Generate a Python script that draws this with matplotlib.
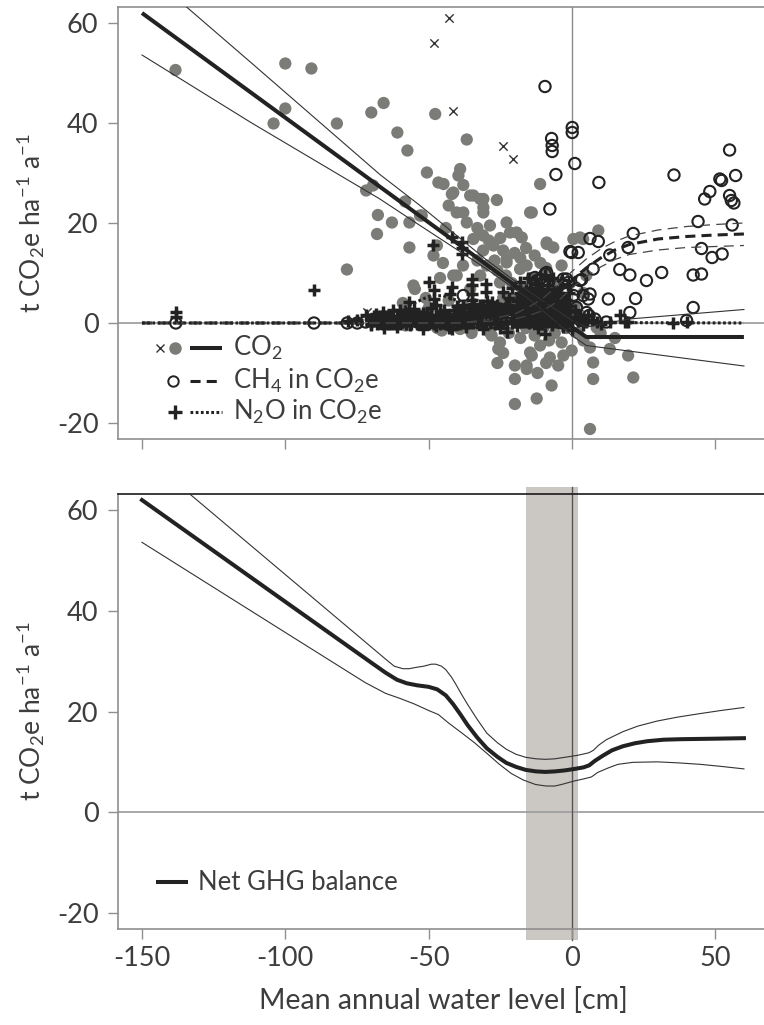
import matplotlib
matplotlib.use('Agg')
import matplotlib.pyplot as plt

plt.rcParams['font.family'] = ['Lato', 'DejaVu Sans']
plt.rcParams['mathtext.default'] = 'regular'
plt.rcParams['axes.unicode_minus'] = False

# ---------------- data ----------------
x_ticks = [-150, -100, -50, 0, 50]
y_ticks = [-20, 0, 20, 40, 60]
x_lim = (-158.4, 68.4)
y_lim = (-23.2, 63.2)

# CO2 measurements (grey dots)
co2_x = [-138.3, -100, -90.9, -104.1, -100, -82, -70, -65.7, -71.8, -69.4, -67.7, -68, -78.5, -60.9,
         -57.4, -47.7, -36.7, -50.6, -46.6, -44.8, -39, -39.6, -37.9, -41.9, -34.4, -30.9, -26.2, -58.2,
         -52.4, -62.8, -56.7, -56.7, -40.2, -36.7, -30.9, -28.6, -27.4, -22.8, -34.4, -47.1, -35.5, -32,
         -30.9, -14, -11.1, -19.3, -17.5, -8.8, -6.5, -3.6, 0.5, 2.8, 9.2, -53, -55.3, -40.2, -35.5,
         -29.7, -22.8, -18.1, -15.8, -25.1, -20.5, -29.7, -28, -25.7, -25.1, -19.9, -19.9, -19.9, -12.3,
         -15.8, -14, -11.1, -7.1, -4.8, -7.7, -3.6, -0.1, 6.3, 7.4, 7.4, 6.3, 13.2, 19.6, 21.4, 8.6,
         -45.4, -15.8, -14.6, -28.6, -41.4, -37.9, -14.6, -21.6, -8.8, -22.8, -32, -41.4, -48.3, 3.9,
         -33, -31, -29, -25, -24, -20, -18, -16, -13, -11, -9, -26, -23, -21, -17, -14, -12, -10, -7,
         -5, -3, -1, 1, 3, 5, 4, -44, -43, -45, -38, -33, -31, -27, -24, -28, -32, -37, -43, -50, -53,
         -58, -64, -47, -39, -35, -22, -18, -16, -13, -10, -8, -6, -2, 2, 4, 10, -24, -26, -12, -9, -3,
         15, -51, -59, -46, -54.8]
co2_y = [50.6, 51.9, 50.9, 39.9, 42.9, 39.9, 42.1, 44.0, 26.5, 27.5, 21.6, 17.8, 10.7, 38.1,
         34.5, 41.8, 36.7, 30.1, 28.1, 27.8, 30.8, 29.5, 27.6, 25.8, 25.5, 24.8, 24.6, 24.3,
         21.5, 20.1, 20.1, 15.1, 22.1, 20.1, 22.1, 19.5, 15.5, 20.1, 16.8, 15.5, 25.5, 24.8,
         23.1, 22.1, 27.8, 18.1, 17.1, 15.8, 15.1, 11.5, 16.8, 17.1, 18.5, 21.5, 7.5, 9.5, 6.8,
         11.5, 12.1, 10.8, 11.5, 8.1, 4.8, -0.5, -2.5, -5.2, -3.9, -8.5, -11.2, -16.2, -15.1,
         -8.5, -6.5, -4.5, -12.5, -8.5, -6.9, -3.9, -5.5, -4.9, -7.9, -11.2, -21.2, -5.2, -6.5, -10.9, -0.9,
         -1.5, -9.2, -5.9, -1.9, 26.1, 22.1, 22.1, 18.1, 16.1, 12.8, 9.5, 9.5, 13.5, 16.8,
         19, 17.5, 16.5, 17, 14.5, 14, 13, 15, 13.5, 12, 11, 10.5, 9.5, 8, 7, 9, 7.5, 5.5, 8,
         6, 4, 2, 3.5, 1.5, 9.5, 6, 19, 23.5, 12, 11.5, 12.5, 14.5, 12.5, 5, 3, 2, 3, 4.5, 3, 1.5,
         -0.5, 0.5, -1, -1.2, -2, -2, -3, -1, -2.5, -1, -3.5, -2, -1, -2, -3.5, -2, -6, -8, -10, -8, -6.5,
         -3, 5, 4, 9, 6.8]

# CO2 outliers (crosses)
co2x_x = [-42.8, -48, -41.4, -24.1, -20.7, -71.5]
co2x_y = [61.1, 56, 42.3, 35.3, 32.7, 2.1]

# CH4 measurements (open circles)
ch4_x = [-9.4, 0.1, 0.1, -7.1, -6.9, -6.9, 1, -5.6, -7.7, 9.4, 35.6, 55, 51.6, 52.2, 57.1, 48.1, 46.3,
         55, 55.6, 56.5, 44, 55.9, 45.2, 48.9, 52.4, 42.3, 45.2, 42.3, 21.4, 19.6, 13.2, 6.3, 9.2, -0.1,
         2.2, -0.7, 16.7, 20.2, 26, 31.3, 12.7, 22.2, 20.2, -12.3, -9.4, -10, -3, -1.3, 2.8, 6.3, 5.7,
         0.5, 1.6, 7.4, 6, 3.4, -12.9, -11.1, -8.8, -12.3, 3.9, 1.6, -1.9, 5.1, -37.9, -25.1,
         -138.2, -90, -78.4, -74.9, -72, -69, -66, -63, -60, -57, -54, -51, -48, -45, -42, -39, -36,
         -33, -30, -27, -24, -21, -18, -16, -14, -12, -10, -8, -6, -4, -2, 0, 3, 8, 12, 40]
ch4_y = [47.3, 39.1, 38.1, 36.9, 35.5, 34.3, 31.9, 29.7, 22.8, 28.1, 29.6, 34.6, 28.8, 28.5, 29.5, 26.3,
         24.8, 25.5, 24.5, 24, 20.3, 19.6, 14.9, 13.1, 13.8, 9.6, 9.8, 3.1, 17.9, 15.1, 13.6, 16.9, 16.3,
         14.1, 14.1, 14.3, 10.7, 9.6, 8.5, 10.1, 4.8, 4.9, 2.1, 8.5, 9.8, 7.8, 8.8, 8.1, 8.5, 5.8, 4.8,
         5.5, 3.1, 10.8, 1.5, 8.7, 9.1, 8.8, 10.1, 6.8, 5.5, 6.8, 8.8, 2.1, 5.5, 2.8,
         0.0, 0.0, 0.0, 0.0, 0.2, 0.4, 0.0, 0.3, 0.0, 0.6, 0.2, 0.5, 0.0, 0.3, 0.8, 0.1, 0.5,
         0.2, 0.6, 0.1, 0.5, 1.0, 0.3, 2.5, 1.2, 0.4, 1.5, 3.0, 1.5, 0.5, 2.5, 1.0, 0.5, 0.8, 0.2, 0.5]

# N2O measurements (plus signs): scattered ones
n2o_x = [-138, -138, -90, -78, -75, -72, -70, -68, -66, -65, -63, -61, -60, -59, -58, -57, -57, -56,
         -55, -54, -53, -52, -51, -50, -50, -49, -48.3, -48.2, -48, -47.5, -47, -46, -45, -44, -43,
         -42.5, -42, -41.9, -41.9, -41, -40, -39, -38.4, -38.4, -38.4, -38, -37, -36, -35, -35, -35,
         -35, -34, -33, -32, -31, -30, -30, -29.5, -29, -28, -27, -26, -25, -24, -23, -22.8, -22, -21,
         -20, -19, -18.5, -18, -17, -16.5, -16, -15, -14.5, -14, -13.5, -13, -12.5, -12, -11.5, -11,
         -10.5, -10, -9.4, -9.5, -9, -8.5, -8, -7.5, -7, -6.5, -6, -5.5, -5, -4.5, -4, -3.5, -3, -2.5,
         -2, -1, 0, 1, 2, 3.5, 5, 7, 8.6, 10, 13.2, 16.7, 18.5, 19.6, 35.3, 40,
         -70, -68.5, -67, -65.5, -64, -62.5, -61, -59.5, -58, -56.5, -55, -53.5, -52, -50.5, -49,
         -47.5, -46, -44.5, -43, -41.5, -40, -38.5, -37, -35.5, -34, -32.5, -31, -29.5, -28, -26.5,
         -25, -23.5, -22, -20.5, -19, -17.5, -16, -15, -14, -13, -12, -11, -10, -9, -8, -7, -6, -5,
         -4, -3, -2, -1, 0, 1, 2.5, 4, 5.5, -24, -21, -18, -15.5, -12.5, -9.5, -6.5, -3.5, -1.5,
         -20, -17, -13.5, -10.5, -7.5, -4.5, -1, -27, -33, -39, -45, -51, -57, -63]
n2o_y = [2.1, 1.2, 6.5, 0.3, 0.5, 1.5, 0.8, 1.0, 2.1, 0.5, 1.2, 0.3, 2.5, 1.0, 0.5, 4.1, 2.8, 1.8,
         0.6, 1.4, 0.2, 2.0, 1.0, 8.1, 0.4, 1.5, 15.5, 6.5, 4.8, 3.5, 0.8, 2.2, 0.3, 1.6, 0.9,
         5.8, 7.1, 17.1, -1.2, 2.5, 0.5, 1.8, 16.1, 14.9, 13.8, 3.0, 0.6, 1.9, 8.8, 7.5, 5.8,
         4.5, 2.8, 0.8, 1.6, 3.5, 7.8, 6.1, 4.4, 2.0, 0.5, 1.5, 3.0, 0.2, 2.2, 1.0, -1.9, 3.5, 0.8,
         2.5, 4.5, 1.2, 6.0, 3.0, 0.5, 5.0, 2.0, 7.0, 4.0, 0.8, 6.0, 2.5, 8.0, 4.5, 1.0,
         6.5, 3.0, -2.2, 5.0, 0.5, 7.5, 2.0, 4.0, 6.0, 1.0, 3.5, 5.5, 0.2, 2.5, 4.5, 1.5, 3.0, 0.5,
         2.0, 1.0, 0.3, 1.2, 0.4, 0.8, 0.2, 0.5, 0.1, -0.3, 0.2, 1.5, 0.1, 0.2, 0.0, 0.1,
         -0.5, 1.8, 0.2, -1.0, 1.0, 2.5, -0.8, 0.6, 1.9, -0.4, 2.8, 0.9, -1.2, 1.7, 3.0,
         -0.6, 1.0, 2.6, -1.0, 0.4, 3.3, 1.2, -0.9, 2.0, 3.8, 0.3, -1.3, 2.4, 4.2, 1.1,
         -1.0, 3.0, 5.0, 1.8, -0.7, 3.8, 6.5, 0.0, 2.9, 5.2, -1.0, 6.8, 1.6, 4.0, 8.5, -0.5, 6.2, 2.2,
         7.2, -0.8, 4.6, 6.0, -1.5, 2.5, 1.0, -0.5, 1.5, 6.2, 7.0, 8.2, 9.0, 8.8, 9.5, 9.0, 8.5, 7.5,
         0.5, 1.0, 1.5, -0.2, 2.8, 0.8, 3.3, -0.2, 1.3, -0.3, 0.0, 0.2, 0.3, -0.3]

# N2O measurements (plus signs): the dense cluster near zero (drained to wet sites)
n2o_dense_x = [-70, -68, -66, -64, -62, -60, -58, -56, -54, -52, -50, -48, -46, -44, -42, -40,
               -69, -67, -65, -63, -61, -59, -57, -55, -53, -51, -49, -47, -45, -43, -41,
               -39, -37.5, -36, -34.5, -33, -31.5, -30, -28.5, -27, -25.5, -24, -22.5, -21,
               -39, -37.5, -36, -34.5, -33, -31.5, -30, -28.5, -27, -25.5, -24, -22.5, -21,
               -38, -35, -32, -29, -26, -23,
               -20, -19, -18, -17, -16, -15, -14, -13, -12, -11, -10, -9, -8, -7, -6, -5, -4, -3, -2,
               -20, -19, -18, -17, -16, -15, -14, -13, -12, -11, -10, -9, -8, -7, -6, -5, -4, -3, -2,
               -19, -18, -17, -16, -15, -14, -13, -12, -11, -10, -9, -8, -7, -6, -5, -4, -3,
               -17, -15.5, -14, -12.5, -11, -9.5, -8, -6.5, -5]
n2o_dense_y = [-0.3, -0.3, -0.3, -0.3, -0.3, -0.3, -0.3, -0.3, -0.3, -0.3, -0.3, -0.3, -0.3, -0.3,
               -0.3, -0.3,
               1.3, 1.3, 1.3, 1.3, 1.3, 1.3, 1.3, 1.3, 1.3, 1.3, 1.3, 1.3, 1.3, 1.3, 1.3,
               0.0, 0.0, 0.0, 0.0, 0.0, 0.0, 0.0, 0.0, 0.0, 0.0, 0.0, 0.0, 0.0,
               2.2, 2.2, 2.2, 2.2, 2.2, 2.2, 2.2, 2.2, 2.2, 2.2, 2.2, 2.2, 2.2,
               3.6, 3.6, 3.6, 3.6, 3.6, 3.6,
               0.2, 0.2, 0.2, 0.2, 0.2, 0.2, 0.2, 0.2, 0.2, 0.2, 0.2, 0.2, 0.2, 0.2, 0.2, 0.2, 0.2, 0.2,
               0.2,
               2.4, 2.4, 2.4, 2.4, 2.4, 2.4, 2.4, 2.4, 2.4, 2.4, 2.4, 2.4, 2.4, 2.4, 2.4, 2.4, 2.4, 2.4,
               2.4,
               4.4, 4.4, 4.4, 4.4, 4.4, 4.4, 4.4, 4.4, 4.4, 4.4, 4.4, 4.4, 4.4, 4.4, 4.4, 4.4, 4.4,
               6.0, 6.0, 6.0, 6.0, 6.0, 6.0, 6.0, 6.0, 6.0]

# Fitted CO2 line with confidence band
co2_fit_x = [-150, 0, 5, 60]
co2_fit_y = [62.0, -0.8, -2.8, -2.8]
co2_up_x = [-150, -112, -67, -53, -30, -15, 0, 5, 20, 60]
co2_up_y = [70.9, 52.1, 29.7, 23.5, 12.7, 6.3, 0.5, -0.8, 0.8, 2.7]
co2_lo_x = [-150, -112, -67, -53, -30, -15, 0, 5, 60]
co2_lo_y = [53.6, 40.1, 24.8, 19.5, 10.9, 4.8, -2.5, -4.5, -8.6]

# Fitted CH4 curve with confidence band
ch4_fit_x = [-150, -40, -30, -20, -15, -10, -5, 0, 5, 10, 15, 20, 30, 40, 50, 60]
ch4_fit_y = [0, 0, 0.4, 1.2, 2.2, 3.6, 5.8, 8.6, 11.0, 13.0, 14.6, 15.7, 16.8, 17.3, 17.6, 17.8]
ch4_up_y = [0, 0, 0.6, 1.8, 3.2, 5.0, 7.5, 10.3, 12.8, 14.8, 16.3, 17.4, 18.6, 19.3, 19.7, 20.0]
ch4_lo_y = [0, 0, 0.3, 0.8, 1.5, 2.5, 4.3, 7.0, 9.3, 11.2, 12.7, 13.7, 14.6, 15.1, 15.3, 15.5]

# Fitted N2O curve
n2o_fit_x = [-150, -75, -65, -57, -50, -45, -40, -35, -30, -20, 0, 60]
n2o_fit_y = [0, 0, 1.5, 3.5, 5.3, 5.5, 4.5, 2.5, 1.0, 0.3, 0.1, 0]

# Net GHG balance with confidence band (bottom panel)
net_x = [-150, -100, -70, -65, -61, -57.6, -54, -50, -47, -44, -41.5, -39, -36.4, -33, -29.7, -26,
         -22.9, -19.5, -16.1, -12.5, -9.3, -6, -2.5, 1, 4, 6, 8, 11, 14, 17.8, 22, 26.3, 32, 38, 50, 60]
net_y = [62.0, 41.8, 29.7, 27.7, 26.3, 25.6, 25.2, 24.9, 24.4, 23.2, 21.5, 19.5, 17.3, 14.8, 12.7, 11.0,
         9.8, 9.0, 8.4, 8.1, 8.0, 8.1, 8.3, 8.6, 8.9, 9.3, 10.2, 11.3, 12.3, 13.1, 13.7, 14.1, 14.4, 14.5,
         14.6, 14.7]
net_up_x = [-150, -100, -70, -65, -62, -59, -56.8, -54, -51.7, -49, -47.5, -45.5, -44, -42, -40.7, -38.5,
            -36.4, -33, -29.7, -26, -22.9, -19.5, -16.1, -12.5, -9.3, -6, -2.5, 2, 5.9, 7.5, 9.3, 12,
            17.8, 23, 29.7, 37, 44.9, 52, 60]
net_up_y = [71.2, 47.2, 32.8, 30.4, 29.0, 28.5, 28.5, 28.8, 29.0, 29.4, 29.4, 29.0, 28.3, 26.8, 25.6, 23.4,
            21.4, 18.4, 15.7, 13.8, 12.5, 11.5, 10.9, 10.6, 10.5, 10.6, 10.9, 11.3, 11.8, 12.3, 13.3, 14.4,
            16.0, 17.1, 18.1, 18.9, 19.6, 20.2, 20.8]
net_lo_x = [-150, -100, -72, -65, -60, -55, -50, -46.6, -43, -38.1, -34, -29.7, -25.5, -21.2, -17, -12.7,
            -9, -5.9, -3, 0.8, 4, 6.8, 9, 12.7, 16, 21.2, 29.7, 37, 44.9, 52, 60]
net_lo_y = [53.6, 35.7, 25.7, 23.6, 22.6, 21.5, 20.2, 19.4, 17.7, 15.6, 13.8, 11.7, 9.6, 7.7, 6.4, 5.5,
            5.2, 5.2, 5.6, 6.2, 6.6, 7.0, 7.9, 8.8, 9.5, 9.9, 10.0, 9.8, 9.5, 9.1, 8.6]

# Optimal water level band
band_x = (-16, 2)

# ---------------- styling ----------------
TXT = '#3d3d3d'
SPINE = '#8f8f8f'
GREY = '#7b7b78'
DARK = '#222222'
FS_TICK = 19.5
FS_LAB = 19
FS_LEG = 18.5

fig = plt.figure(figsize=(7.64, 10.25), dpi=100)
left = 117.9 / 764
width = (768 - 117.9) / 764
ax1 = fig.add_axes([left, 1 - 439 / 1025, width, 432 / 1025])
ax2 = fig.add_axes([left, 1 - 929 / 1025, width, 435 / 1025])

ylabel = r't CO$_2$e ha$^{-1}$ a$^{-1}$'

for ax in (ax1, ax2):
    ax.set_xlim(*x_lim)
    ax.set_ylim(*y_lim)
    ax.set_xticks(x_ticks)
    ax.set_yticks(y_ticks)
    ax.tick_params(direction='out', length=7, width=1, color=SPINE, labelcolor=TXT,
                   labelsize=FS_TICK, pad=5)
    ax.tick_params(axis='y', pad=7)
    ax.spines['right'].set_visible(False)
    for s in ('left', 'bottom', 'top'):
        ax.spines[s].set_color(SPINE)
        ax.spines[s].set_linewidth(1.2)
    ax.set_ylabel(ylabel, fontsize=FS_LAB, color=TXT, labelpad=7)
    ax.axhline(0, color='#a0a0a0', lw=1.3, zorder=0.5)

ax1.tick_params(axis='x', labelbottom=False)
ax1.axvline(0, color='#8a8a8a', lw=1.0, zorder=0.5)

# ---- top panel points ----
ax1.scatter(co2_x, co2_y, s=78, color=GREY, edgecolors='none', zorder=2)
ax1.scatter(co2x_x, co2x_y, s=36, marker='x', color='#333333', linewidths=1.0, zorder=3)
ax1.scatter(ch4_x, ch4_y, s=66, marker='o', facecolors='none', edgecolors=DARK,
            linewidths=1.5, zorder=3)
ax1.scatter(n2o_x, n2o_y, s=85, marker='+', color=DARK, linewidths=2.5, zorder=4)
ax1.scatter(n2o_dense_x, n2o_dense_y, s=85, marker='+', color=DARK, linewidths=2.5, zorder=4)

# ---- top panel fitted lines ----
ax1.plot(co2_fit_x, co2_fit_y, color=DARK, lw=2.9, zorder=5, solid_capstyle='butt')
ax1.plot(co2_up_x, co2_up_y, color='#333333', lw=0.8, zorder=5)
ax1.plot(co2_lo_x, co2_lo_y, color='#333333', lw=0.8, zorder=5)
ax1.plot(ch4_fit_x, ch4_fit_y, color=DARK, lw=2.2, dashes=(3.3, 2.0), zorder=5)
ax1.plot(ch4_fit_x, ch4_up_y, color='#444444', lw=0.9, dashes=(8, 5), zorder=5)
ax1.plot(ch4_fit_x, ch4_lo_y, color='#444444', lw=0.9, dashes=(8, 5), zorder=5)
ax1.plot(n2o_fit_x, n2o_fit_y, color=DARK, lw=2.2, dashes=(0.9, 0.8), zorder=5)

# ---- top legend (drawn in axes coordinates) ----
rows = [0.2105, 0.1354, 0.0618]
ax1.plot([0.0648], [rows[0]], marker='x', ms=6, mew=1.0, color='#333333',
         transform=ax1.transAxes, clip_on=False, zorder=6)
ax1.plot([0.0878], [rows[0]], marker='o', ms=9, mew=0, color=GREY,
         transform=ax1.transAxes, clip_on=False, zorder=6)
ax1.plot([0.0847], [rows[1]], marker='o', ms=7.5, mfc='none', mec=DARK, mew=1.4,
         transform=ax1.transAxes, clip_on=False, zorder=6)
ax1.plot([0.0878], [rows[2]], marker='+', ms=10, mew=2.4, color=DARK,
         transform=ax1.transAxes, clip_on=False, zorder=6)
ax1.plot([0.111, 0.160], [rows[0]] * 2, color=DARK, lw=2.9, transform=ax1.transAxes,
         solid_capstyle='butt', zorder=6)
ax1.plot([0.111, 0.160], [rows[1]] * 2, color=DARK, lw=2.2, dashes=(3.3, 2.0),
         transform=ax1.transAxes, zorder=6)
ax1.plot([0.111, 0.160], [rows[2]] * 2, color=DARK, lw=2.2, dashes=(0.9, 0.8),
         transform=ax1.transAxes, zorder=6)
labels = ['CO$_2$', 'CH$_4$ in CO$_2$e', 'N$_2$O in CO$_2$e']
for r, lab in zip(rows, labels):
    ax1.text(0.177, r, lab, transform=ax1.transAxes, fontsize=FS_LEG, color=TXT,
             va='center', ha='left', zorder=6)

# ---- bottom panel ----
ax2.spines['top'].set_color('#1a1a1a')
ax2.axvspan(band_x[0], band_x[1], ymin=-0.025, ymax=1.016, color='#cbc7c3', lw=0,
            zorder=0.2, clip_on=False)
ax2.axvline(0, ymin=-0.025, ymax=1.016, color='#555555', lw=1.0, zorder=0.6, clip_on=False)
ax2.plot(net_x, net_y, color=DARK, lw=2.9, zorder=5)
ax2.plot(net_up_x, net_up_y, color='#333333', lw=0.8, zorder=5)
ax2.plot(net_lo_x, net_lo_y, color='#333333', lw=0.8, zorder=5)
ax2.set_xlabel('Mean annual water level [cm]', fontsize=20.5, color=TXT, labelpad=12)

ax2.plot([0.0586, 0.108], [0.108, 0.108], color=DARK, lw=2.9, transform=ax2.transAxes,
         solid_capstyle='butt', zorder=6)
ax2.text(0.1226, 0.108, 'Net GHG balance', transform=ax2.transAxes, fontsize=FS_LEG,
         color=TXT, va='center', ha='left', zorder=6)

fig.savefig('out.png', dpi=100)
